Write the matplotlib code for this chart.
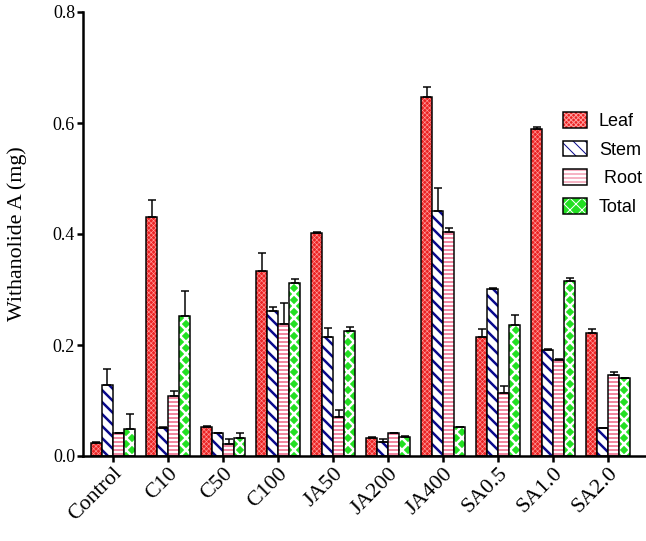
import matplotlib.pyplot as plt
import numpy as np
from matplotlib.patches import Patch

groups = ["Control", "C10", "C50", "C100", "JA50", "JA200", "JA400", "SA0.5", "SA1.0", "SA2.0"]

leaf = [0.024, 0.430, 0.052, 0.333, 0.402, 0.033, 0.647, 0.214, 0.590, 0.221]
leaf_err = [0.002, 0.031, 0.002, 0.033, 0.002, 0.001, 0.017, 0.014, 0.002, 0.007]
stem = [0.128, 0.050, 0.041, 0.262, 0.215, 0.025, 0.441, 0.301, 0.191, 0.050]
stem_err = [0.028, 0.002, 0.001, 0.006, 0.015, 0.006, 0.042, 0.002, 0.001, 0.001]
root = [0.041, 0.109, 0.021, 0.238, 0.071, 0.041, 0.404, 0.114, 0.173, 0.146]
root_err = [0.001, 0.008, 0.010, 0.038, 0.011, 0.001, 0.006, 0.012, 0.002, 0.005]
total = [0.048, 0.253, 0.033, 0.312, 0.226, 0.035, 0.052, 0.236, 0.315, 0.140]
total_err = [0.027, 0.045, 0.008, 0.007, 0.007, 0.001, 0.001, 0.018, 0.005, 0.001]

# name, values, errors, face colour, hatch, hatch colour, hatch width
series = [
    ("Leaf", leaf, leaf_err, "#ec2424", "xxxxx", "#ff9c9c", 0.6),
    ("Stem", stem, stem_err, "white", "\\\\", "#0a0a8c", 2.5),
    (" Root", root, root_err, "white", "---", "#ee6a8a", 1.6),
    ("Total", total, total_err, "#22e022", "xx", "white", 2.5),
]

fig = plt.figure(figsize=(646 / 72, 541 / 72), dpi=72)
ax = fig.add_axes([83 / 646, 1 - 456 / 541, 1 - 83 / 646 - 0.001, (456 - 12) / 541])

x = np.arange(len(groups))
w = 0.2
handles = []
for i, (name, vals, errs, face, hatch, hcol, hlw) in enumerate(series):
    pos = x + (i - 1.5) * w
    with plt.rc_context({"hatch.linewidth": hlw}):
        b = ax.bar(pos, vals, w, color=face, hatch=hatch, edgecolor=hcol, linewidth=0)
        for p in b:
            if hasattr(p, "set_hatch_linewidth"):
                p.set_hatch_linewidth(hlw)
        h1 = Patch(facecolor=face, hatch=hatch, edgecolor=hcol, linewidth=0)
        if hasattr(h1, "set_hatch_linewidth"):
            h1.set_hatch_linewidth(hlw)
    ax.bar(pos, vals, w, fill=False, edgecolor="black", linewidth=1.5,
           yerr=[np.zeros(len(vals)), errs], capsize=4,
           error_kw=dict(elinewidth=1.5, capthick=1.5, ecolor="black"))
    h2 = Patch(fill=False, edgecolor="black", linewidth=1.5)
    handles.append((h1, h2))

ax.set_xlim(-0.545, 9.67)
ax.set_ylim(0, 0.8)
ax.set_yticks([0.0, 0.2, 0.4, 0.6, 0.8])
ax.set_yticklabels(["0.0", "0.2", "0.4", "0.6", "0.8"], family="Liberation Serif", fontsize=18)
ax.set_xticks(x)
ax.set_xticklabels(groups, rotation=45, ha="right", rotation_mode="anchor",
                   family="Liberation Serif", fontsize=22)
ax.set_ylabel("Withanolide A (mg)", family="Liberation Serif", fontsize=22, labelpad=26)
ax.spines["top"].set_visible(False)
ax.spines["right"].set_visible(False)
ax.spines["left"].set_linewidth(2.5)
ax.spines["bottom"].set_linewidth(2.5)
ax.tick_params(axis="both", direction="out", length=6, width=2.5, pad=2)

ax.legend(handles, [s[0] for s in series], loc="upper left",
          bbox_to_anchor=(563 / 646, 1 - 112 / 541), bbox_transform=fig.transFigure,
          frameon=False, borderpad=0, borderaxespad=0, handlelength=1.35, handleheight=0.95,
          handletextpad=0.65, labelspacing=0.6,
          prop={"family": "Liberation Sans", "size": 18})

fig.savefig("out.png", dpi=72)
